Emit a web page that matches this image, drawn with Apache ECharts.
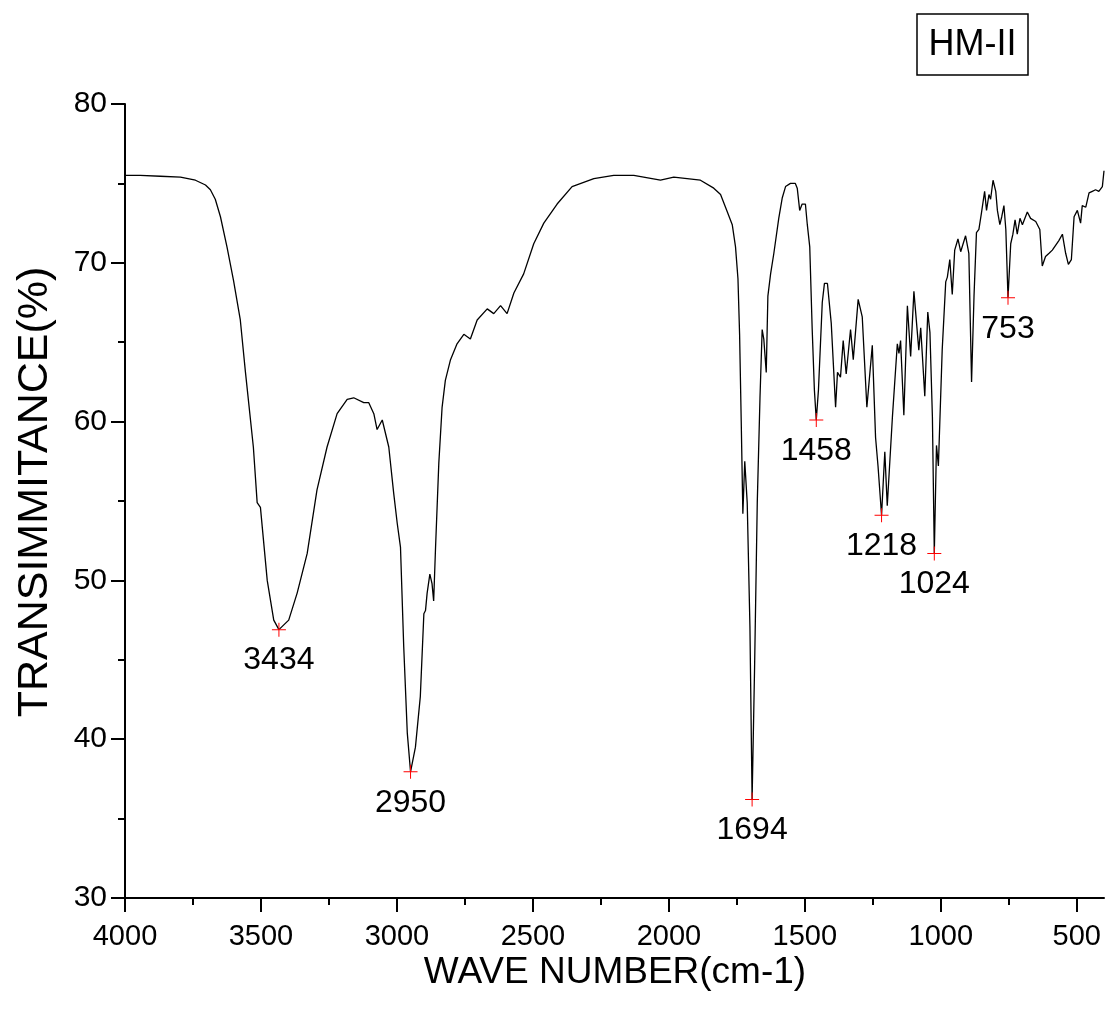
<!DOCTYPE html>
<html><head><meta charset="utf-8">
<script src="https://cdn.jsdelivr.net/npm/echarts@6/dist/echarts.min.js"></script>
<style>html,body{margin:0;padding:0;background:#fff}#c{width:1106px;height:1015px}</style>
</head><body><div id="c"></div>
<script>
const wavenumbers = [4000,3944,3870,3796,3741,3704,3686,3668,3649,3625,3601,3576,3557,3528,3514,3502,3477,3453,3434,3398,3367,3330,3294,3257,3220,3183,3159,3122,3104,3085,3073,3054,3030,3012,2999,2987,2975,2962,2950,2932,2914,2901,2895,2889,2879,2871,2865,2858,2846,2834,2822,2803,2779,2754,2730,2705,2668,2644,2619,2595,2570,2534,2497,2460,2411,2356,2276,2203,2129,2031,1982,1884,1835,1810,1785,1767,1755,1746,1740,1734,1728,1721,1712,1702,1694,1685,1675,1665,1657,1651,1642,1636,1626,1614,1596,1583,1571,1553,1535,1528,1519,1510,1498,1491,1482,1473,1465,1458,1450,1436,1428,1417,1403,1387,1380,1369,1359,1348,1332,1322,1304,1289,1272,1252,1240,1231,1218,1206,1197,1178,1160,1154,1148,1136,1123,1111,1099,1081,1074,1068,1059,1048,1040,1031,1024,1016,1009,995,982,976,967,958,949,937,927,909,897,887,878,869,860,851,839,832,823,817,808,798,792,783,776,768,761,753,743,735,727,719,709,700,682,670,651,636,627,615,602,590,578,566,553,541,531,520,510,498,486,480,467,455,443,431,419,406,400];
const transmittance = [75.5,75.5,75.45,75.4,75.2,74.9,74.6,74.0,72.9,71.0,68.9,66.4,63.1,58.4,54.9,54.6,50.0,47.5,46.9,47.5,49.2,51.7,55.7,58.4,60.5,61.4,61.5,61.2,61.2,60.5,59.5,60.1,58.4,55.5,53.6,52.1,45.8,40.4,37.95,39.5,42.7,47.9,48.1,49.2,50.4,49.8,48.7,52.1,57.4,60.9,62.6,63.9,64.9,65.5,65.2,66.4,67.1,66.8,67.3,66.8,68.1,69.3,71.2,72.5,73.7,74.8,75.3,75.5,75.5,75.2,75.4,75.2,74.7,74.3,73.2,72.4,71.0,69.0,65.5,60.0,54.2,57.5,54.9,47.1,36.2,44.4,54.9,61.5,65.8,65.2,63.1,67.9,69.3,70.6,72.8,74.1,74.8,75.0,75.0,74.7,73.3,73.7,73.7,72.4,71.0,65.8,62.0,60.1,62.0,67.5,68.7,68.7,66.2,60.9,63.1,62.8,65.1,63.0,65.8,63.9,67.7,66.6,60.9,64.8,59.0,57.2,54.1,58.1,54.7,60.3,64.9,64.3,65.1,60.4,67.3,64.1,68.2,64.5,65.9,64.2,61.6,66.9,65.6,60.3,51.7,58.5,57.2,64.5,68.8,69.1,70.2,68.0,70.8,71.5,70.7,71.7,70.6,62.5,67.9,71.9,72.1,73.1,74.5,73.3,74.3,74.0,75.2,74.5,73.3,72.4,72.9,73.6,72.1,67.8,71.2,71.8,72.7,71.8,72.8,72.4,73.2,72.8,72.6,72.1,69.8,70.4,70.6,70.8,71.1,71.4,71.8,70.6,69.9,70.2,72.9,73.3,72.5,73.6,73.5,74.4,74.5,74.6,74.5,74.8,75.8];
const peakWave = [3434,2950,1694,1458,1218,1024,753];
const peakT = [46.9,37.95,36.2,60.1,54.1,51.7,67.8];
const xMajorTicks = [500,1000,1500,2000,2500,3000,3500,4000];
const xMinorTicks = [750,1250,1750,2250,2750,3250,3750];
const sampleName = 'HM-II';
const xTitle = 'WAVE NUMBER(cm-1)';
const yTitle = 'TRANSIMMITANCE(%)';

const FONT = '"Liberation Sans", Arial, sans-serif';
const chart = echarts.init(document.getElementById('c'), null, {renderer:'canvas'});
const lineData = wavenumbers.map((w,i)=>[w, transmittance[i]]);
const peakData = peakWave.map((w,i)=>({value:[w, peakT[i]], label:{formatter:String(w), color:'#000'}}));
const plus = 'path://M6.5,0H7.5V6.5H14V7.5H7.5V14H6.5V7.5H0V6.5H6.5Z';

chart.setOption({
  animation:false,
  backgroundColor:'#fff',
  grid:{left:125, top:104, right:2, bottom:117, containLabel:false},
  graphic:[
    {type:'rect', shape:{x:917, y:14, width:111, height:61}, style:{fill:'#fff', stroke:'#000', lineWidth:1.5}},
    {type:'text', x:972.5, y:45, style:{text:sampleName, font:'36px '+FONT, fill:'#000', align:'center', verticalAlign:'middle'}},
    {type:'text', x:35, y:492, rotation:Math.PI/2, style:{text:yTitle, font:'43px '+FONT, fill:'#000', align:'center', verticalAlign:'middle'}},
    {type:'text', x:615, y:973, style:{text:xTitle, font:'37px '+FONT, fill:'#000', align:'center', verticalAlign:'middle'}}
  ],
  xAxis:[{
    type:'value', min:400, max:4000, inverse:true,
    axisLine:{show:true, onZero:false, lineStyle:{color:'#000', width:2}},
    axisTick:{show:true, customValues:xMajorTicks, length:14, lineStyle:{color:'#000', width:2}},
    axisLabel:{customValues:xMajorTicks, formatter:v=>String(v), fontSize:29, fontFamily:FONT, color:'#000', margin:24},
    splitLine:{show:false}
  },{
    type:'value', min:400, max:4000, inverse:true, position:'bottom',
    axisLine:{show:false},
    axisTick:{show:true, customValues:xMinorTicks, length:7, lineStyle:{color:'#000', width:2}},
    axisLabel:{show:false}, splitLine:{show:false}
  }],
  yAxis:{
    type:'value', min:30, max:80, interval:10,
    axisLine:{show:true, onZero:false, lineStyle:{color:'#000', width:2}},
    axisTick:{show:true, length:14, lineStyle:{color:'#000', width:2}},
    minorTick:{show:true, splitNumber:2, length:7, lineStyle:{color:'#000', width:2}},
    axisLabel:{fontSize:30, fontFamily:FONT, color:'#000', margin:18},
    splitLine:{show:false}
  },
  series:[{
    type:'line', data:lineData, showSymbol:false, symbol:'none',
    lineStyle:{color:'#000', width:1.3}, silent:true, z:2
  },{
    type:'scatter', data:peakData, symbol:plus, symbolSize:14,
    itemStyle:{color:'#ff0000', opacity:1}, silent:true, z:3,
    label:{show:true, position:'bottom', distance:8, fontSize:32, fontFamily:FONT, color:'#000', opacity:1}
  }]
});
</script></body></html>
